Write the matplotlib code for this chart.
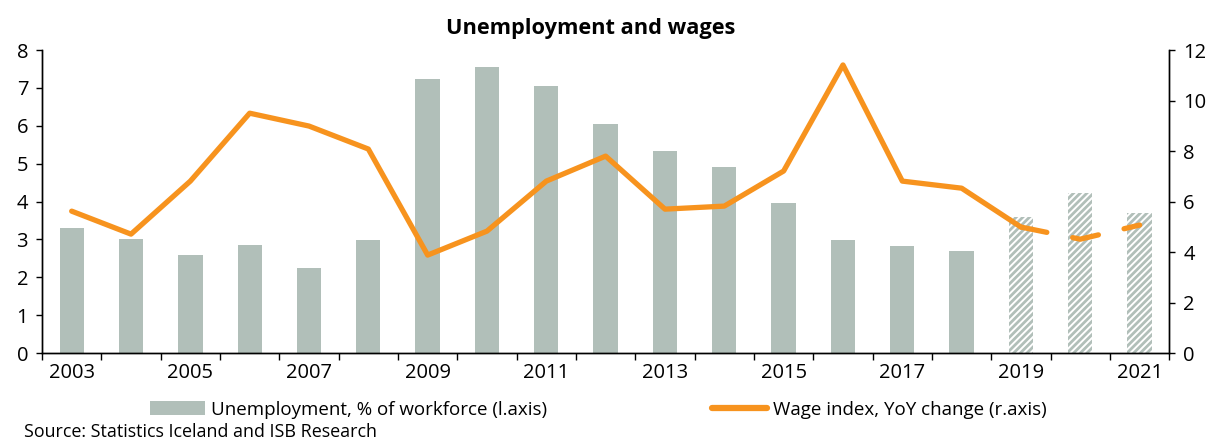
import matplotlib
matplotlib.use("Agg")
import matplotlib.pyplot as plt
import numpy as np
from matplotlib.patches import Patch
from matplotlib.lines import Line2D

plt.rcParams['font.family'] = ['Open Sans', 'DejaVu Sans']
plt.rcParams['hatch.linewidth'] = 2.0

years = list(range(2003, 2022))
unemployment = [3.30, 3.01, 2.59, 2.85, 2.24, 2.98, 7.23, 7.55, 7.04, 6.04,
                5.33, 4.91, 3.96, 2.98, 2.82, 2.69, 3.59, 4.22, 3.69]
wage_change = [5.62, 4.71, 6.81, 9.50, 8.99, 8.08, 3.88, 4.83, 6.81, 7.80,
               5.70, 5.82, 7.21, 11.41, 6.81, 6.53, 4.99, 4.51, 5.07]
forecast_start = 2019
tick_labels = [str(y) for y in years]

bar_color = '#B1BFB9'
line_color = '#F7931E'

fig = plt.figure(figsize=(12.18, 4.43), dpi=100)
ax = fig.add_axes([0.0345, 0.203, 0.9255, 0.684])
ax2 = ax.twinx()

x = np.arange(len(years))
fc = years.index(forecast_start)
ax.bar(x[:fc], unemployment[:fc], width=0.41, color=bar_color, zorder=2)
ax.bar(x[fc:], unemployment[fc:], width=0.41, color='white', edgecolor=bar_color,
       hatch='/////', linewidth=0, zorder=2)

ax2.plot(x[:fc + 1], wage_change[:fc + 1], color=line_color, lw=3.8,
         solid_capstyle='round', zorder=3)
ax2.plot(x[fc:], wage_change[fc:], color=line_color, lw=3.8, dashes=(5, 5),
         dash_capstyle='round', zorder=3)

ax.set_xlim(-0.5, len(years) - 0.5)
ax.set_ylim(0, 8)
ax2.set_ylim(0, 12)
ax.set_yticks(range(0, 9))
ax2.set_yticks(range(0, 13, 2))

ax.set_xticks(x[::2])
ax.set_xticklabels(tick_labels[::2])
ax.set_xticks(np.arange(-0.5, len(years), 1), minor=True)
ax.tick_params(axis='x', which='major', length=0, pad=7, labelsize=14.5)
ax.tick_params(axis='x', which='minor', length=5, direction='out', width=1)
ax.tick_params(axis='y', length=4, width=1, labelsize=14.5, pad=6)
ax2.tick_params(axis='y', length=4, width=1, labelsize=14.5, pad=6)

for a in (ax, ax2):
    a.spines['top'].set_visible(False)
    for s in ('left', 'right', 'bottom'):
        a.spines[s].set_linewidth(1)
        a.spines[s].set_color('black')
ax.patch.set_visible(False)
ax.set_zorder(1)
ax2.set_zorder(2)
ax2.patch.set_visible(False)

fig.text(0.485, 0.936, 'Unemployment and wages', ha='center', va='center',
         fontsize=15.7, fontweight='bold')

handles = [Patch(facecolor=bar_color, edgecolor='none'),
           Line2D([0], [0], color=line_color, lw=4.5, solid_capstyle='round')]
labels = ['Unemployment, % of workforce (l.axis)', 'Wage index, YoY change (r.axis)']
fig.legend(handles, labels, loc='center', bbox_to_anchor=(0.4915, 0.075), ncol=2,
           frameon=False, fontsize=13.5, columnspacing=8.8, handlelength=2.9,
           handleheight=0.8, handletextpad=0.35)

fig.text(0.02, 0.004, 'Source: Statistics Iceland and ISB Research', ha='left',
         va='bottom', fontsize=12.9)

fig.savefig('out.png', dpi=100)
